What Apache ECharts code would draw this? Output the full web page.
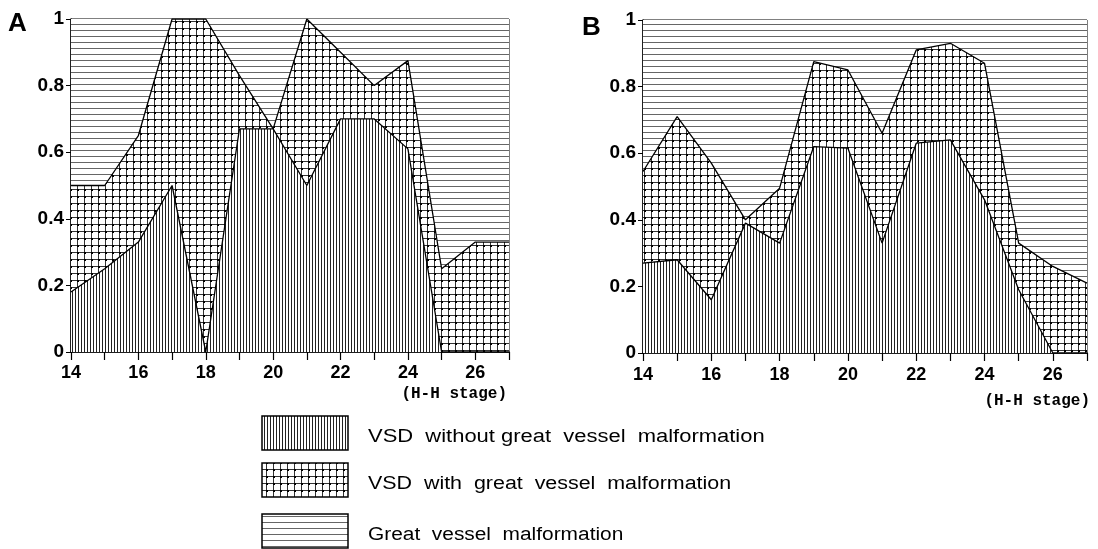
<!DOCTYPE html>
<html>
<head>
<meta charset="utf-8">
<script src="https://cdn.jsdelivr.net/npm/echarts@6/dist/echarts.min.js"></script>
<style>
  html, body { margin: 0; padding: 0; background: #fff; }
  #chart { width: 1098px; height: 549px; }
</style>
</head>
<body>
<div id="chart"></div>
<script>
  // H-H stages on the x axis
  const stages = [14, 15, 16, 17, 18, 19, 20, 21, 22, 23, 24, 25, 26, 27]

  // panel A: top of "VSD without" band, and top of "VSD with" band
  const aWithout = [0.18, 0.25, 0.33, 0.5, 0, 0.67, 0.67, 0.5, 0.7, 0.7, 0.61, 0, 0, 0]
  const aWith = [0.5, 0.5, 0.65, 1, 1, 0.83, 0.67, 1, 0.9, 0.8, 0.875, 0.25, 0.33, 0.33]

  // panel B
  const bWithout = [0.27, 0.28, 0.16, 0.39, 0.33, 0.62, 0.615, 0.33, 0.63, 0.64, 0.46, 0.19, 0, 0]
  const bWith = [0.545, 0.71, 0.57, 0.4, 0.495, 0.875, 0.85, 0.66, 0.91, 0.93, 0.87, 0.33, 0.26, 0.21]

  const legendNames = [
    'VSD  without great  vessel  malformation',
    'VSD  with  great  vessel  malformation',
    'Great  vessel  malformation'
  ]
  const xName = '(H-H stage)'

  const font = 'Liberation Sans, Arial, sans-serif'

  function pattern(w, h, draw) {
    const c = document.createElement('canvas')
    c.width = w
    c.height = h
    const ctx = c.getContext('2d')
    ctx.fillStyle = '#fff'
    ctx.fillRect(0, 0, w, h)
    draw(ctx)
    return { image: c, repeat: 'repeat' }
  }

  const vertHatch = pattern(3, 4, ctx => {
    ctx.fillStyle = '#222'
    ctx.fillRect(0, 0, 1, 4)
  })
  const crossHatch = pattern(7, 7, ctx => {
    ctx.fillStyle = '#333'
    ctx.fillRect(0, 0, 7, 1)
    ctx.fillRect(0, 0, 1, 7)
    ctx.fillStyle = '#000'
    ctx.fillRect(0, 0, 2, 2)
  })
  const horizHatch = pattern(4, 6, ctx => {
    ctx.fillStyle = '#666'
    ctx.fillRect(0, 0, 4, 1)
  })

  const pairs = arr => arr.map((v, i) => [stages[i], v])

  function xAxis(idx, margin) {
    return {
      type: 'value', gridIndex: idx, min: 14, max: 27, interval: 1,
      axisLine: { lineStyle: { color: '#000', width: 1.5 } },
      axisTick: { length: 8, lineStyle: { color: '#000', width: 1.2 } },
      axisLabel: {
        margin: margin, color: '#000', fontSize: 18, fontWeight: 'bold', fontFamily: font,
        formatter: v => (v % 2 === 0 ? String(v) : '')
      },
      splitLine: { show: false }
    }
  }

  function yAxis(idx) {
    return {
      type: 'value', gridIndex: idx, min: 0, max: 1, interval: 0.2,
      axisLine: { show: true, lineStyle: { color: '#000', width: 1.5 } },
      axisTick: { show: true, length: 5, lineStyle: { color: '#000' } },
      axisLabel: { margin: 7, color: '#000', fontSize: 19, fontWeight: 'bold', fontFamily: font },
      splitLine: { show: false }
    }
  }

  function panel(idx, without, withGv) {
    return [
      {
        type: 'line', xAxisIndex: idx, yAxisIndex: idx, data: pairs(withGv),
        symbol: 'none', z: 1, lineStyle: { width: 0 },
        areaStyle: { origin: 'end', color: horizHatch, opacity: 1 }
      },
      {
        type: 'line', xAxisIndex: idx, yAxisIndex: idx, data: pairs(withGv),
        symbol: 'none', z: 2, lineStyle: { color: '#000', width: 1.3 },
        areaStyle: { origin: 'start', color: crossHatch, opacity: 1 }
      },
      {
        type: 'line', xAxisIndex: idx, yAxisIndex: idx, data: pairs(without),
        symbol: 'none', z: 3, lineStyle: { color: '#000', width: 1.3 },
        areaStyle: { origin: 'start', color: vertHatch, opacity: 1 }
      }
    ]
  }

  const legendY = [416, 463, 514]
  const legendScale = [1.22, 1.19, 1.16]
  const legendFills = [vertHatch, crossHatch, horizHatch]
  const legendGraphics = []
  legendNames.forEach((name, i) => {
    legendGraphics.push({
      type: 'rect', shape: { x: 262, y: legendY[i], width: 86, height: 34 },
      style: { fill: legendFills[i], stroke: '#000', lineWidth: 1.5 }
    })
    legendGraphics.push({
      type: 'text', x: 368, y: legendY[i] + 21, scaleX: legendScale[i],
      style: { text: name, fill: '#000', font: '18px ' + font, textVerticalAlign: 'middle' }
    })
  })

  const option = {
    animation: false,
    backgroundColor: '#fff',
    grid: [
      { left: 71, top: 19, width: 438, height: 333, show: true, borderColor: '#000', borderWidth: 1, backgroundColor: 'transparent' },
      { left: 643, top: 20, width: 444, height: 333, show: true, borderColor: '#000', borderWidth: 1, backgroundColor: 'transparent' }
    ],
    xAxis: [xAxis(0, 12), xAxis(1, 13)],
    yAxis: [yAxis(0), yAxis(1)],
    series: [].concat(panel(0, aWithout, aWith), panel(1, bWithout, bWith)),
    graphic: [
      { type: 'text', x: 8, y: 11, style: { text: 'A', fill: '#000', font: 'bold 26px ' + font } },
      { type: 'text', x: 582, y: 15, style: { text: 'B', fill: '#000', font: 'bold 26px ' + font } },
      { type: 'text', x: 507, y: 394, style: { text: xName, fill: '#000', font: 'bold 16px Liberation Mono, monospace', textAlign: 'right', textVerticalAlign: 'middle' } },
      { type: 'text', x: 1090, y: 401, style: { text: xName, fill: '#000', font: 'bold 16px Liberation Mono, monospace', textAlign: 'right', textVerticalAlign: 'middle' } }
    ].concat(legendGraphics)
  }

  const chart = echarts.init(document.getElementById('chart'))
  chart.setOption(option)
</script>
</body>
</html>
